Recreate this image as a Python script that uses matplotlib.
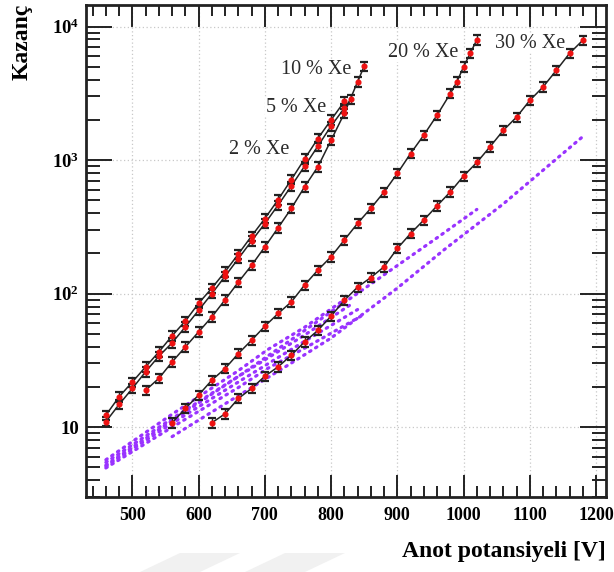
import numpy as np
import matplotlib
matplotlib.use("Agg")
import matplotlib.pyplot as plt
from matplotlib.ticker import FixedLocator, FuncFormatter, NullFormatter
from matplotlib.patches import Polygon

plt.rcParams["font.family"] = ["Liberation Serif", "DejaVu Serif"]
plt.rcParams["font.weight"] = "bold"
plt.rcParams["mathtext.fontset"] = "custom"
plt.rcParams["mathtext.rm"] = "Liberation Serif:bold"
plt.rcParams["mathtext.bf"] = "Liberation Serif:bold"
plt.rcParams["mathtext.it"] = "Liberation Serif:bold"

# ---------------- data ----------------
v_2 = [460, 480, 500, 520, 540, 560, 580, 600, 620, 640, 660, 680, 700, 720, 740, 760, 780, 800, 820]
g_2 = [12.3, 16.9, 21.8, 28.3, 36.6, 48.4, 62.4, 84.6, 110, 146, 198, 270, 365, 505, 715, 1020, 1450, 2000, 2750]

v_5 = [460, 480, 500, 520, 540, 560, 580, 600, 620, 640, 660, 680, 700, 720, 740, 760, 780, 800, 820, 830]
g_5 = [11.0, 14.8, 19.5, 26, 34, 42.8, 56.4, 75, 100, 135, 183, 248, 335, 460, 640, 900, 1270, 1800, 2450, 2850]

v_10 = [520, 540, 560, 580, 600, 620, 640, 660, 680, 700, 720, 740, 760, 780, 800, 820, 840, 850]
g_10 = [18.9, 23.2, 30.8, 39.9, 51.7, 67, 90, 122, 163, 224, 311, 435, 631, 890, 1410, 2240, 3860, 5060]

v_20 = [560, 580, 600, 620, 640, 660, 680, 700, 720, 740, 760, 780, 800, 820, 840, 860, 880, 900,
        920, 940, 960, 980, 990, 1000, 1010, 1020]
g_20 = [10.8, 13.8, 17.4, 22.5, 27.5, 35.6, 44.8, 57, 71, 86.7, 116, 150, 189, 252, 336, 436, 577, 795,
        1120, 1540, 2170, 3150, 3860, 5000, 6300, 7950]

v_30 = [620, 640, 660, 680, 700, 720, 740, 760, 780, 800, 820, 840, 860, 880, 900, 920, 940, 960, 980,
        1000, 1020, 1040, 1060, 1080, 1100, 1120, 1140, 1160, 1180]
g_30 = [10.8, 12.6, 16.4, 19.5, 24.1, 28.3, 34.6, 43.6, 53, 68, 89, 112, 132, 159, 218, 282, 356, 455, 578,
        760, 960, 1260, 1670, 2100, 2800, 3530, 4700, 6300, 7900]

# simulation curves (purple dotted)
sim_v_a = [460, 560, 660, 704, 760, 820]
sim_g_a = [5.7, 12.5, 26.5, 38.0, 56.0, 90.0]
sim_v_b = [460, 560, 660, 760, 830]
sim_g_b = [5.45, 11.6, 24.0, 49.0, 83.0]
sim_v_f = [460, 560, 660, 760, 840]
sim_g_f = [5.1, 10.7, 21.8, 44.0, 76.0]
sim_v_c = [460, 560, 660, 704, 760, 850]
sim_g_c = [4.95, 10.0, 19.8, 27.5, 39.0, 70.0]
sim_v_d = [460, 560, 660, 760, 860, 960, 1020]
sim_g_d = [5.2, 11.2, 24.0, 53.0, 118.0, 262.0, 427.0]
sim_v_e = [560, 620, 680, 740, 800, 900, 970, 1060, 1120, 1180]
sim_g_e = [8.5, 13.0, 19.8, 30.2, 46.5, 110.0, 212.0, 470.0, 840.0, 1500.0]

labels = ["2 % Xe", "5 % Xe", "10 % Xe", "20 % Xe", "30 % Xe"]
label_v = [691, 747, 777, 939, 1100]
label_g = [1205, 2490, 4730, 6440, 7510]

x_label = "Anot potansiyeli [V]"
y_label = "Kazanç"

# ---------------- figure ----------------
W, H = 614, 572
fig = plt.figure(figsize=(W / 100, H / 100), dpi=100)
ax = fig.add_axes([86 / W, 1 - 497 / H, (606 - 86) / W, (497 - 5) / H])

ax.set_yscale("log")
ax.set_xlim(430, 1215)
ax.set_ylim(3.0, 14500)

purple = "#9933ff"

for sv, sg in [(sim_v_a, sim_g_a), (sim_v_b, sim_g_b), (sim_v_f, sim_g_f), (sim_v_c, sim_g_c),
               (sim_v_d, sim_g_d), (sim_v_e, sim_g_e)]:
    ax.plot(sv, sg, linestyle=(0, (0.5, 1.7)), color=purple, lw=2.3,
            dash_capstyle="round", zorder=2)

for vv, gg in [(v_2, g_2), (v_5, g_5), (v_10, g_10), (v_20, g_20), (v_30, g_30)]:
    vv = np.array(vv, float)
    gg = np.array(gg, float)
    ax.plot(vv, gg, color="#222222", lw=1.1, zorder=3)
    ax.errorbar(vv, gg, yerr=0.08 * gg, fmt="none", ecolor="#222222",
                elinewidth=1.0, capsize=3, capthick=1.6, zorder=4)
    ax.plot(vv, gg, "o", color="#ee1111", ms=3.4, mec="#ee1111", zorder=5)

for t, lv, lg in zip(labels, label_v, label_g):
    ax.text(lv, lg, t, ha="center", va="center", fontsize=14.5, color="#2a2a2a",
            fontweight="normal", zorder=6,
            bbox=dict(facecolor="white", edgecolor="none", pad=0.5))

# ticks
ax.xaxis.set_major_locator(FixedLocator(np.arange(500, 1201, 100)))
ax.xaxis.set_minor_locator(FixedLocator(np.arange(440, 1215, 20)))
ymaj = [10, 100, 1000, 10000]
ax.yaxis.set_major_locator(FixedLocator(ymaj))
ymin = [m * 10.0 ** e for e in range(0, 5) for m in range(2, 10)]
ymin = [y for y in ymin if 3 <= y <= 14500]
ax.yaxis.set_minor_locator(FixedLocator(ymin))
ax.yaxis.set_minor_formatter(NullFormatter())

def yfmt(y, pos):
    e = int(round(np.log10(y)))
    return "10" if e == 1 else r"$10^{%d}$" % e
ax.yaxis.set_major_formatter(FuncFormatter(yfmt))

ax.tick_params(which="both", direction="in", top=True, right=True, width=1.4, color="#222222")
ax.tick_params(axis="x", which="major", length=16)
ax.tick_params(axis="x", which="minor", length=8)
ax.tick_params(axis="y", which="major", length=19)
ax.tick_params(axis="y", which="minor", length=10)
ax.tick_params(axis="x", which="major", labelsize=13, pad=7)
ax.tick_params(axis="y", which="major", labelsize=13.5, pad=5)

for s in ax.spines.values():
    s.set_linewidth(2.0)
    s.set_color("#222222")

ax.grid(True, which="major", linestyle=(0, (1, 2)), color="#c8c8c8", lw=0.9, zorder=0)
ax.set_axisbelow(True)

fig.text(606 / W, 1 - 551 / H, x_label, ha="right", va="center", fontsize=17,
         fontweight="bold")
fig.text(22 / W, 1 - 4 / H, y_label, ha="center", va="top", rotation=90, fontsize=17,
         fontweight="bold")

# faint watermark shapes
for x0 in (140, 245):
    fig.patches.append(Polygon([[(x0 + 40) / W, 1 - 553 / H], [(x0 + 100) / W, 1 - 553 / H],
                                [(x0 + 60) / W, 0], [(x0) / W, 0]],
                               closed=True, transform=fig.transFigure,
                               facecolor="#f1f1f1", edgecolor="none", zorder=-1))

fig.savefig("out.png", dpi=100)
